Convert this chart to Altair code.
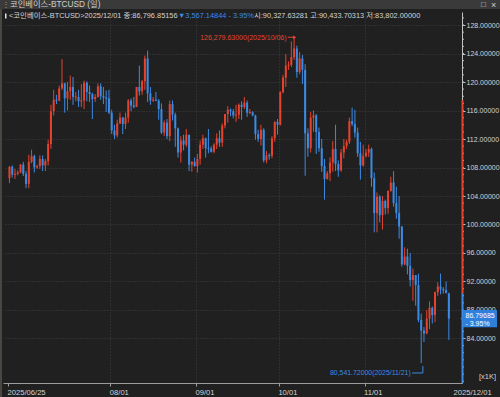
import altair as alt
import pandas as pd

# ---------------- data ----------------
first_day = "2025-06-25"
last_day = "2025-12-01"

opens = [106500, 108100, 107000, 107100, 107300, 108400, 107100, 105700, 108800, 109600,
         108000, 108200, 109200, 108300, 108900, 111300, 115900, 117500, 117400, 119100,
         119800, 117700, 118700, 119300, 117900, 117900, 117300, 117400, 119900, 118600,
         118300, 117600, 117900, 119400, 118000, 117800, 117700, 115700, 113200, 112500,
         114200, 115000, 114100, 115000, 117400, 116700, 116500, 119300, 118700, 120100,
         123300, 118400, 117400, 117500, 117400, 116200, 112900, 114300, 112400, 116900,
         115400, 113500, 110100, 111800, 111200, 112600, 108400, 108800, 108200, 109200,
         111200, 112100, 110700, 110650, 110200, 111200, 112100, 111500, 113900, 115500,
         116100, 115900, 115300, 115400, 116800, 116500, 117100, 115700, 115750, 115300,
         112700, 112000, 113300, 109000, 109700, 109650, 112100, 114400, 114000, 118600,
         120600, 122300, 122400, 123500, 124700, 121400, 123300, 121700, 112800, 110700,
         115000, 115300, 113000, 110700, 108200, 106400, 107200, 108700, 110600, 108500,
         107600, 110100, 111000, 111600, 114500, 114100, 112900, 110000, 108300, 109600,
         110100, 110600, 106500, 101600, 103900, 101300, 103300, 102300, 104700, 105900,
         103000, 101600, 99700, 94400, 95500, 94200, 92200, 92900, 91500, 86600,
         85100, 84700, 86800, 88300, 87300, 90500, 91300, 90900, 90800, 90327.63281]
highs = [108200, 108300, 107800, 107600, 108500, 108800, 107500, 109800, 110500, 109800,
         108400, 109700, 109700, 109200, 111900, 116800, 118900, 118200, 119500, 123200,
         119900, 120000, 120900, 120700, 118600, 118900, 119700, 120200, 120100, 119500,
         118500, 118300, 119800, 119800, 119300, 118800, 118900, 116100, 114000, 114700,
         115700, 115100, 115700, 117600, 117700, 117900, 119300, 122300, 120300, 123700,
         124400, 119300, 117900, 118600, 117600, 117000, 114600, 114800, 117400, 117400,
         115700, 113600, 112400, 112600, 113400, 112600, 108900, 109400, 109900, 111800,
         112600, 112200, 113400, 111000, 111400, 112800, 113200, 114200, 115500, 116600,
         116300, 116200, 116800, 117000, 117300, 117900, 117400, 116200, 115900, 115400,
         113300, 114000, 113500, 110300, 110000, 112400, 114500, 114800, 118700, 121000,
         123900, 122900, 125700, 126279.63, 125100, 124200, 123800, 122500, 113500, 115800,
         116000, 115500, 113600, 112000, 109200, 107500, 109400, 111700, 114000, 109000,
         110600, 112000, 111900, 115000, 116400, 116100, 113600, 111600, 111200, 110600,
         111200, 110800, 107300, 104500, 104100, 104000, 103500, 104800, 106700, 107500,
         105300, 104000, 99800, 96800, 96600, 96000, 93800, 92900, 93100, 87500,
         85600, 88000, 89200, 88500, 90600, 91900, 93100, 91200, 92000, 90433.70313]
lows = [105800, 106600, 106400, 106900, 107200, 106800, 105100, 105100, 108600, 107300,
        107800, 107800, 107500, 107500, 108300, 110600, 115300, 116900, 117300, 118900,
        115700, 116000, 117500, 116800, 117300, 116500, 116500, 116200, 117300, 117200,
        114800, 117200, 117800, 117500, 116900, 115800, 115500, 112700, 112000, 112200,
        114100, 112700, 113400, 114300, 115900, 116300, 116500, 118100, 118200, 118900,
        117200, 116800, 117200, 117300, 114700, 112700, 112400, 112000, 111700, 114600,
        110900, 109400, 108700, 110400, 110900, 107500, 107400, 108100, 107300, 108400,
        110600, 109400, 110000, 110100, 110000, 110600, 110900, 110900, 113500, 114300,
        115200, 114900, 114400, 114800, 114700, 116200, 115100, 115500, 115200, 111900,
        111600, 111100, 108700, 108600, 109100, 109300, 111600, 112600, 113900, 118400,
        119300, 121700, 122100, 123100, 120600, 121100, 119700, 106850, 109500, 110100,
        113000, 109900, 110200, 107400, 103500, 106300, 106100, 107400, 107500, 106700,
        107400, 109300, 110600, 111300, 113800, 112200, 109500, 106300, 108100, 109400,
        109500, 105300, 98900, 98900, 100300, 99300, 101400, 101500, 104600, 102500,
        100800, 98000, 94100, 94300, 93000, 91300, 89300, 88600, 86300, 80541.72,
        83500, 84600, 85300, 86100, 86300, 90000, 90200, 90300, 90300, 83802.0]
closes = [108100, 107000, 107100, 107300, 108400, 107100, 105700, 108800, 109600, 108000,
          108200, 109200, 108300, 108900, 111300, 115900, 117500, 117400, 119100, 119800,
          117700, 118700, 119300, 117900, 117900, 117300, 117400, 119900, 118600, 118300,
          117600, 117900, 119400, 118000, 117800, 117700, 115700, 113200, 112500, 114200,
          115000, 114100, 115000, 117400, 116700, 116500, 119300, 118700, 120100, 123300,
          118400, 117400, 117500, 117400, 116200, 112900, 114300, 112400, 116900, 115400,
          113500, 110100, 111800, 111200, 112600, 108400, 108800, 108200, 109200, 111200,
          112100, 110700, 110650, 110200, 111200, 112100, 111500, 113900, 115500, 116100,
          115900, 115300, 115400, 116800, 116500, 117100, 115700, 115750, 115300, 112700,
          112000, 113300, 109000, 109700, 109650, 112100, 114400, 114000, 118600, 120600,
          122300, 122400, 123500, 124700, 121400, 123300, 121700, 112800, 110700, 115000,
          115300, 113000, 110700, 108200, 106400, 107200, 108700, 110600, 108500, 107600,
          110100, 111000, 111600, 114500, 114100, 112900, 110000, 108300, 109600, 110100,
          110600, 106500, 101600, 103900, 101300, 103300, 102300, 104700, 105900, 103000,
          101600, 99700, 94400, 95500, 94200, 92200, 92900, 91500, 86600, 85100,
          84700, 86800, 88300, 87300, 90500, 91300, 90900, 90800, 90400, 86796.85156]

y_major_ticks = list(range(84000, 128001, 4000))
y_minor_ticks = list(range(78000, 129001, 1000))
x_tick_dates = ["2025-06-25", "2025-08-01", "2025-09-01", "2025-10-01", "2025-11-01", "2025-12-01"]
x_tick_labels = ["2025/06/25", "08/01", "09/01", "10/01", "11/01", "2025/12/01"]

high_date, high_value = "2025-10-06", 126279.63
low_date, low_value = "2025-11-21", 80541.72
last_close = 86796.85156
last_open = 90327.63281
last_change_pct = -3.95
range_top = 117470

title_text = "코인베이스-BTCUSD (일)"
info_left = "<코인베이스-BTCUSD>2025/12/01 종:86,796.85156"
info_change = "▼3,567.14844  - 3.95%"
info_right = "시:90,327.63281 고:90,433.70313 저:83,802.00000"
unit_text = "[x1K]"

# ---------------- styling ----------------
BG = "#202020"
RED = "#e5432e"
BLUE = "#3b8be4"
GRID = "#3e3e3e"
TXT = "#d4d4d4"
AX = "#9c9c9c"
FONT = "Liberation Sans, Noto Sans CJK KR, sans-serif"
W, H = 459, 371

# ---------------- frame ----------------
dates = pd.date_range(first_day, last_day, freq="D")
t0 = pd.Timestamp(first_day)
df = pd.DataFrame({"date": dates.strftime("%Y-%m-%d"), "idx": range(len(dates)),
                   "open": opens, "high": highs, "low": lows, "close": closes})
df["dir"] = ["up" if c >= o else "down" for o, c in zip(df.open, df.close)]
lo = df[["open", "close"]].min(axis=1)
hi = df[["open", "close"]].max(axis=1)
mid = (lo + hi) / 2
small = (hi - lo) < 150
df["b_lo"] = lo.where(~small, mid - 75)
df["b_hi"] = hi.where(~small, mid + 75)

def day_idx(d):
    return (pd.Timestamp(d) - t0).days

tick_pos = []
for d in x_tick_dates:
    i = day_idx(d)
    tick_pos.append(i + 1.9 if d == last_day else i - 0.5)
label_expr = "''"
for p, lab in reversed(list(zip(tick_pos, x_tick_labels))):
    label_expr = f"abs(datum.value - {p}) < 0.01 ? '{lab}' : ({label_expr})"
edge_test = f"datum.value < 0 || datum.value > {day_idx(last_day) + 0.5}"

xscale = alt.Scale(domain=[-0.53, 161.95], nice=False, zero=False)
yscale = alt.Scale(domain=[77754, 129825], nice=False, zero=False)
xaxis = alt.Axis(values=tick_pos, labelExpr=label_expr, labelAlign="left", labelBaseline="top",
                 labelPadding=2, labelFont=FONT, labelFontSize=7.6, labelColor=TXT, labelOffset=-1,
                 tickSize=3, tickColor=AX, domainColor=AX, grid=True, gridColor=GRID,
                 gridDash=[1, 2], gridOpacity={"condition": {"test": edge_test, "value": 0}, "value": 1},
                 tickOpacity={"condition": {"test": f"datum.value > {day_idx(last_day) + 0.5}", "value": 0}, "value": 1},
                 labelFlush=False, labelOverlap=False, title=None)
yaxis = alt.Axis(orient="right", values=y_major_ticks, labelExpr="format(datum.value/1000, '.5f')",
                 labelFont=FONT, labelFontSize=7, labelColor=TXT, labelPadding=1, tickSize=3,
                 tickColor="#bdbdbd", domainColor="#c4c4c4", grid=True, gridColor=GRID, gridDash=[1, 2],
                 labelBaseline="middle", labelFlush=False, labelOverlap=False, title=None)

def X(f):
    return alt.X(f"{f}:Q", scale=xscale, axis=xaxis)

def Y(f):
    return alt.Y(f"{f}:Q", scale=yscale, axis=yaxis)

color = alt.Color("dir:N", scale=alt.Scale(domain=["up", "down"], range=[RED, BLUE]), legend=None)

base = alt.Chart(df)
wicks = base.mark_rule(strokeWidth=1).encode(x=X("idx"), y=Y("low"), y2="high", color=color)
bodies = base.mark_bar(size=2).encode(x=X("idx"), y=Y("b_lo"), y2="b_hi", color=color)

# minor ticks on the price axis
minor = alt.Chart(pd.DataFrame({"v": y_minor_ticks})).mark_rule(color="#bdbdbd").encode(
    y=Y("v"), x=alt.value(W), x2=alt.value(W + 2))

# coloured segments on the price axis
seg = pd.DataFrame({"v": [range_top, last_open], "v2": [last_open, yscale.domain[0]], "c": ["r", "b"]})
segs = alt.Chart(seg).mark_rule(strokeWidth=2).encode(
    y=Y("v"), y2="v2", x=alt.value(W + 0.5),
    color=alt.Color("c:N", scale=alt.Scale(domain=["r", "b"], range=[RED, BLUE]), legend=None))

# high / low annotations
hi_i = day_idx(high_date)
lo_i = day_idx(low_date)
hi_lab = f"{high_value:,.5f}({high_date.replace('-', '/')})"
lo_lab = f"{low_value:,.5f}({low_date.replace('-', '/')})"
hi_df = pd.DataFrame({"idx": [hi_i], "a": [hi_i - 2.3], "b": [hi_i + 0.2], "v": [high_value], "t": [hi_lab]})
lo_df = pd.DataFrame({"idx": [lo_i], "a": [lo_i - 3.3], "b": [lo_i + 0.6], "v": [low_value],
                      "h": [low_value - 1384], "top": [low_value - 400], "t": [lo_lab]})

hi_text = alt.Chart(hi_df).mark_text(align="right", baseline="middle", dx=-7.5, dy=0.5, font=FONT,
                                     fontSize=7, color=RED).encode(x=X("idx"), y=Y("v"), text="t:N")
hi_line = alt.Chart(hi_df).mark_rule(color=RED, strokeWidth=1).encode(x=X("a"), x2="b", y=Y("v"))
hi_head = alt.Chart(hi_df).mark_point(shape="triangle-right", filled=True, size=14, color=RED,
                                      opacity=1).encode(x=X("b"), y=Y("v"))
lo_text = alt.Chart(lo_df).mark_text(align="right", baseline="middle", dx=-10.5, dy=9.6, font=FONT,
                                     fontSize=6.9, color=BLUE).encode(x=X("idx"), y=Y("v"), text="t:N")
lo_hline = alt.Chart(lo_df).mark_rule(color=BLUE, strokeWidth=1).encode(x=X("a"), x2="b", y=Y("h"))
lo_vline = alt.Chart(lo_df).mark_rule(color=BLUE, strokeWidth=1).encode(x=X("b"), y=Y("h"), y2="top")

# last price badge
badge_df = pd.DataFrame({"v": [last_close], "top": [last_close + 1200], "bot": [last_close - 1230],
                         "t1": [f"{last_close/1000:.5f}"], "t2": [f"{last_change_pct:.2f}%".replace('-', '- ')]})
badge = alt.Chart(badge_df).mark_rect(color="#2f80dc").encode(
    y=Y("top"), y2="bot", x=alt.value(W + 1), x2=alt.value(W + 35))
pointer = alt.Chart(badge_df).mark_point(shape="triangle-left", filled=True, size=28, color="#2f80dc",
                                         opacity=1).encode(y=Y("v"), x=alt.value(W + 0.5))
badge_t1 = alt.Chart(badge_df).mark_text(align="left", baseline="middle", dy=-2.2, font=FONT,
                                         fontSize=7, color="#ffffff").encode(
    y=Y("v"), x=alt.value(W + 3.5), text="t1:N")
badge_t2 = alt.Chart(badge_df).mark_text(align="left", baseline="middle", dy=5, font=FONT,
                                         fontSize=7, color="#ffffff").encode(
    y=Y("v"), x=alt.value(W + 3.5), text="t2:N")

# window decorations / header
def txt(s, x, y, color=TXT, size=8.5, align="left"):
    return alt.Chart(pd.DataFrame({"t": [s]})).mark_text(
        align=align, baseline="middle", font=FONT, fontSize=size, color=color).encode(
        x=alt.value(x), y=alt.value(y), text="t:N")

def box(x, x2, y, y2, color):
    return alt.Chart(pd.DataFrame({"k": [0]})).mark_rect(color=color).encode(
        x=alt.value(x), x2=alt.value(x2), y=alt.value(y), y2=alt.value(y2))

titlebar = box(-3, 497, -12, -3, "#3a3a3a")
leftbar = box(-3, -1, -3, H + 14, "#4a4641")
marker = box(2, 3.5, 1.5, 6.5, "#e0e0e0")
header = [
    titlebar, leftbar, marker,
    txt("⋮", -1, -7.5, "#9a9a9a", 8),
    txt(title_text, 7, -7.5, "#cfcfcf", 8.3),
    txt("□", 478, -7.5, "#d0d0d0", 8),
    txt("×", 488, -7.5, "#d0d0d0", 9),
    txt(info_left, 6, 3.5, TXT, 7.4),
    txt(info_change, 175, 3.5, BLUE, 7.4),
    txt(info_right, 251, 3.5, TXT, 7.4),
    txt(unit_text, 493, 364.5, TXT, 7.5, "right"),
]

chart = alt.layer(
    wicks, bodies, minor, segs, hi_line, hi_head, hi_text, lo_hline, lo_vline, lo_text,
    badge, pointer, badge_t1, badge_t2, *header
).properties(
    width=W, height=H, padding={"left": 3, "top": 12, "right": 38, "bottom": 14}, autosize="none"
).configure(background=BG).configure_view(strokeWidth=0)

chart.save("out.html", embed_options={"renderer": "svg", "actions": False})
